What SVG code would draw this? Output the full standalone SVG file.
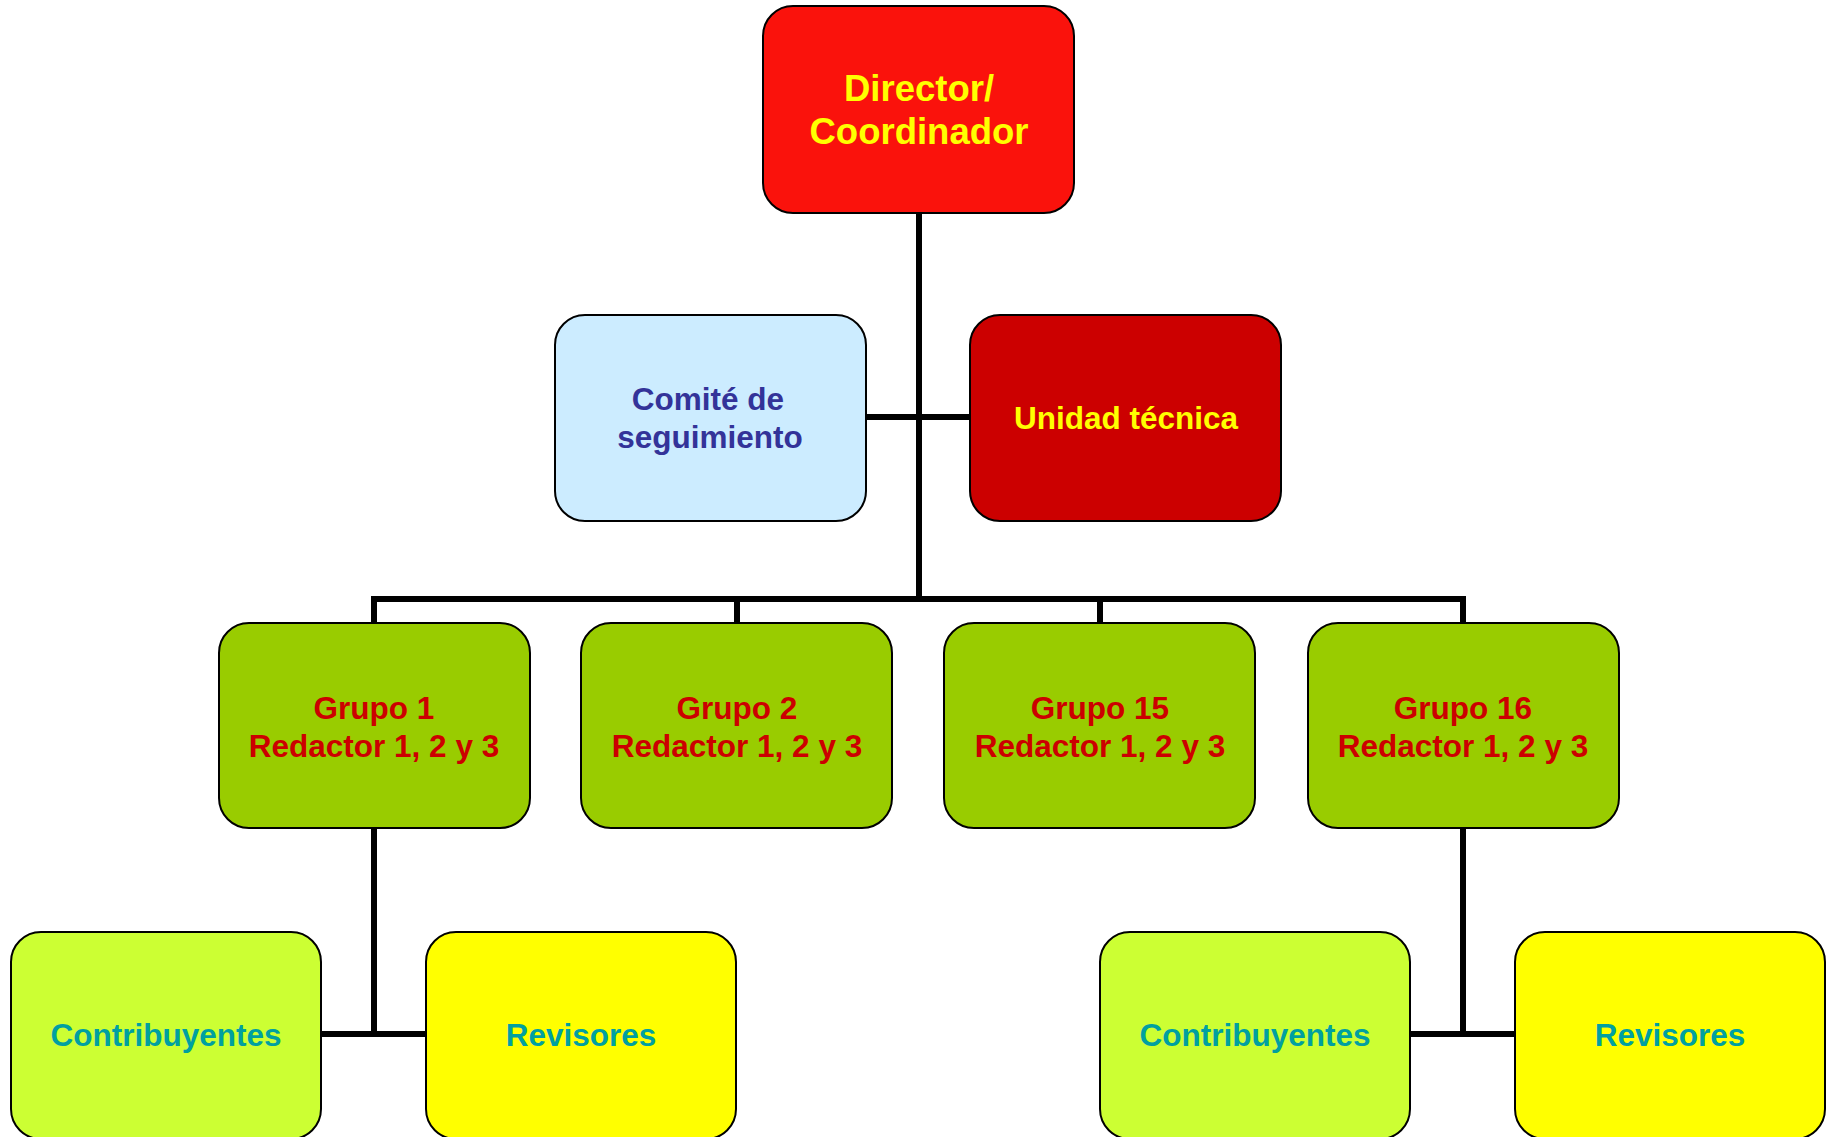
<svg xmlns="http://www.w3.org/2000/svg" width="1834" height="1137" viewBox="0 0 1834 1137">
<style>
.box{stroke:#000;stroke-width:2}
.t{font-family:"Liberation Sans",Arial,sans-serif;font-weight:bold;text-anchor:middle}
.conn{stroke:#000;stroke-width:6;fill:none}
</style>
<rect width="1834" height="1137" fill="#fff"/>
<g id="connectors">
<line class="conn" x1="919" y1="213" x2="919" y2="602"/>
<line class="conn" x1="764" y1="417" x2="970" y2="417"/>
<polyline class="conn" points="374,623 374,599 1463,599 1463,623"/>
<line class="conn" x1="737" y1="599" x2="737" y2="623"/>
<line class="conn" x1="1100" y1="599" x2="1100" y2="623"/>
<polyline class="conn" points="374,828 374,1034"/>
<line class="conn" x1="321" y1="1034" x2="426" y2="1034"/>
<polyline class="conn" points="1463,828 1463,1034"/>
<line class="conn" x1="1411" y1="1034" x2="1515" y2="1034"/>
</g>
<g id="director">
<rect class="box" x="763" y="6" width="311" height="207" rx="30" fill="#FA120C"/>
<text class="t" x="919" y="101" font-size="36.5" fill="#FFFF00">Director/</text>
<text class="t" x="919" y="144" font-size="36.5" fill="#FFFF00">Coordinador</text>
</g>
<g id="comite">
<rect class="box" x="555" y="315" width="311" height="206" rx="30" fill="#CCECFF"/>
<text class="t" x="708" y="410" font-size="31.5" fill="#333399">Comité de</text>
<text class="t" x="710" y="448" font-size="31.5" fill="#333399">seguimiento</text>
</g>
<g id="unidad">
<rect class="box" x="970" y="315" width="311" height="206" rx="30" fill="#CC0000"/>
<text class="t" x="1126" y="429" font-size="31.5" fill="#FFFF00">Unidad técnica</text>
</g>
<g id="grupo1">
<rect class="box" x="219" y="623" width="311" height="205" rx="30" fill="#99CC00"/>
<text class="t" x="374" y="719" font-size="31.5" fill="#CC0000">Grupo 1</text>
<text class="t" x="374" y="757" font-size="31.5" fill="#CC0000">Redactor 1, 2 y 3</text>
</g>
<g id="grupo2">
<rect class="box" x="581" y="623" width="311" height="205" rx="30" fill="#99CC00"/>
<text class="t" x="737" y="719" font-size="31.5" fill="#CC0000">Grupo 2</text>
<text class="t" x="737" y="757" font-size="31.5" fill="#CC0000">Redactor 1, 2 y 3</text>
</g>
<g id="grupo15">
<rect class="box" x="944" y="623" width="311" height="205" rx="30" fill="#99CC00"/>
<text class="t" x="1100" y="719" font-size="31.5" fill="#CC0000">Grupo 15</text>
<text class="t" x="1100" y="757" font-size="31.5" fill="#CC0000">Redactor 1, 2 y 3</text>
</g>
<g id="grupo16">
<rect class="box" x="1308" y="623" width="311" height="205" rx="30" fill="#99CC00"/>
<text class="t" x="1463" y="719" font-size="31.5" fill="#CC0000">Grupo 16</text>
<text class="t" x="1463" y="757" font-size="31.5" fill="#CC0000">Redactor 1, 2 y 3</text>
</g>
<g id="contribuyentes1">
<rect class="box" x="11" y="932" width="310" height="207" rx="30" fill="#CCFF33"/>
<text class="t" x="166" y="1046" font-size="31.5" fill="#00A0A0">Contribuyentes</text>
</g>
<g id="revisores1">
<rect class="box" x="426" y="932" width="310" height="207" rx="30" fill="#FFFF00"/>
<text class="t" x="581" y="1046" font-size="31.5" fill="#00A0A0">Revisores</text>
</g>
<g id="contribuyentes2">
<rect class="box" x="1100" y="932" width="310" height="207" rx="30" fill="#CCFF33"/>
<text class="t" x="1255" y="1046" font-size="31.5" fill="#00A0A0">Contribuyentes</text>
</g>
<g id="revisores2">
<rect class="box" x="1515" y="932" width="310" height="207" rx="30" fill="#FFFF00"/>
<text class="t" x="1670" y="1046" font-size="31.5" fill="#00A0A0">Revisores</text>
</g>
</svg>
